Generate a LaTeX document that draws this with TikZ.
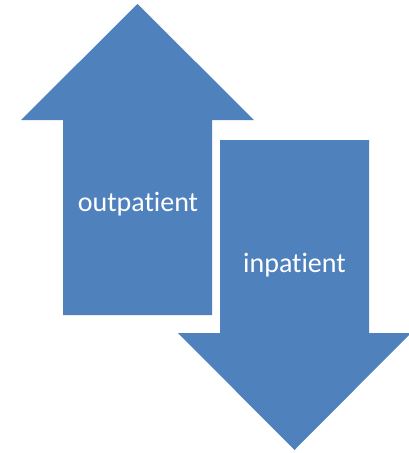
\documentclass[tikz,border=0pt]{standalone}
\usepackage{fontspec}
\setmainfont[Ligatures={NoCommon}]{Carlito}
\usepackage{xcolor}
\definecolor{arrowblue}{HTML}{4F81BD}
\tikzset{
  bigarrow/.style={fill=arrowblue},
  arrowtext/.style={text=white,font=\fontsize{28}{32}\selectfont,anchor=base,inner sep=0pt}
}

\begin{document}
\begin{tikzpicture}[x=1pt,y=-1pt]
  \useasboundingbox (0,0) rectangle (408,453);
  % up arrow
  \fill[bigarrow] (137.5,4) -- (254,120) -- (212,120) -- (212,315) -- (63,315) -- (63,120) -- (21,120) -- cycle;
  % down arrow
  \fill[bigarrow] (220,140) -- (369,140) -- (369,333) -- (411,333) -- (294.5,450) -- (178,333) -- (220,333) -- cycle;

  \node[arrowtext] (outp) at (138,211) {outpatient};
  \node[arrowtext] (inp) at (294.5,272) {inpatient};
\end{tikzpicture}
\end{document}
